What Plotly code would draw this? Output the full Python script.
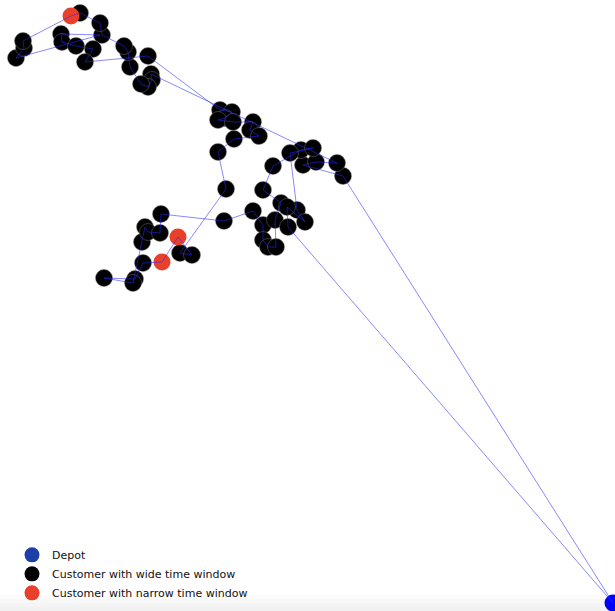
import plotly.graph_objects as go

# Node positions (chart units = pixel grid, y downwards)
depot_x = [613]
depot_y = [603]

wide_x = [343, 303, 316, 337, 151, 152, 148, 141, 130, 128, 124, 102, 100, 80,
          16, 24, 23, 61, 62, 76, 93, 85, 148,
          220, 232, 225, 218, 233, 253, 250, 259, 234, 218, 226,
          180, 192, 143, 135, 104, 133, 142, 145, 148, 160, 161,
          224, 253, 263, 263, 268, 276, 275, 281, 263, 273, 301, 313, 290,
          297, 305, 287, 288]
wide_y = [176, 165, 162, 163, 74, 80, 87, 84, 67, 52, 46, 35, 23, 13,
          58, 48, 41, 34, 42, 46, 49, 62, 56,
          110, 112, 118, 120, 122, 122, 130, 136, 139, 152, 189,
          253, 255, 263, 279, 278, 283, 242, 227, 232, 233, 214,
          221, 211, 225, 240, 247, 247, 220, 203, 190, 166, 150, 148, 153,
          210, 222, 207, 227]

narrow_x = [71, 178, 162]
narrow_y = [16, 237, 262]

# Route (sequence of visited nodes, starting and ending at depot)
route_x = [613, 343, 303, 316, 337, 151, 152, 148, 141, 130, 128, 124, 102, 100, 80, 71,
           23, 24, 16, 100, 61, 62, 76, 93, 85, 148,
           220, 232, 225, 218, 233, 253, 250, 259, 234, 218, 226,
           180, 192, 178, 162, 143, 135, 104, 133, 142, 145, 148, 160, 161,
           224, 253, 263, 263, 268, 276, 275, 281, 263, 273, 301, 313, 290,
           297, 305, 287, 288, 613]
route_y = [603, 176, 165, 162, 163, 74, 80, 87, 84, 67, 52, 46, 35, 23, 13, 16,
           41, 48, 58, 35, 34, 42, 46, 49, 62, 56,
           110, 112, 118, 120, 122, 122, 130, 136, 139, 152, 189,
           253, 255, 237, 262, 263, 279, 278, 283, 242, 227, 232, 233, 214,
           221, 211, 225, 240, 247, 247, 220, 203, 190, 166, 150, 148, 153,
           210, 222, 207, 227, 603]

legend_names = ["Depot", "Customer with wide time window", "Customer with narrow time window"]
legend_colors = ["#1c40a8", "#000000", "#e8402a"]

fig = go.Figure()

fig.add_trace(go.Scatter(x=depot_x, y=depot_y, mode="markers",
                         marker=dict(size=17, color="#0000ff"),
                         showlegend=False, hoverinfo="skip"))
fig.add_trace(go.Scatter(x=wide_x, y=wide_y, mode="markers",
                         marker=dict(size=17, color="#000000",
                                     line=dict(width=0.8, color="rgba(120,120,120,0.6)")),
                         showlegend=False))
fig.add_trace(go.Scatter(x=narrow_x, y=narrow_y, mode="markers",
                         marker=dict(size=17, color="#e8402a"),
                         showlegend=False))
fig.add_trace(go.Scatter(x=route_x, y=route_y, mode="lines",
                         line=dict(width=1, color="rgba(40,40,255,0.55)"),
                         showlegend=False, hoverinfo="skip"))

for name, col in zip(legend_names, legend_colors):
    fig.add_trace(go.Scatter(x=[None], y=[None], mode="markers", name=name,
                             marker=dict(size=15, color=col)))

# faint grey band at the bottom
shades = ["#fcfcfc", "#f8f8f8", "#f4f4f4", "#f1f1f1"]
for i, c in enumerate(shades):
    fig.add_shape(type="rect", xref="paper", yref="paper",
                  x0=0, x1=1, y0=0, y1=(16 - i * 4) / 611,
                  fillcolor=c, line=dict(width=0), layer="below")

fig.update_layout(
    width=615, height=611,
    margin=dict(l=0, r=0, t=0, b=0),
    paper_bgcolor="white", plot_bgcolor="rgba(0,0,0,0)",
    xaxis=dict(range=[0, 615], visible=False, fixedrange=True),
    yaxis=dict(range=[611, 0], visible=False, fixedrange=True),
    font=dict(family="DejaVu Sans", size=11, color="#111111"),
    legend=dict(x=12 / 615, y=0.006, xanchor="left", yanchor="bottom",
                bgcolor="rgba(0,0,0,0)", itemsizing="trace",
                tracegroupgap=0, font=dict(size=11)),
    showlegend=True,
)

fig.write_html("out.html", config={"displayModeBar": False},
               post_script="document.body.style.margin='0';document.body.style.overflow='hidden';")
